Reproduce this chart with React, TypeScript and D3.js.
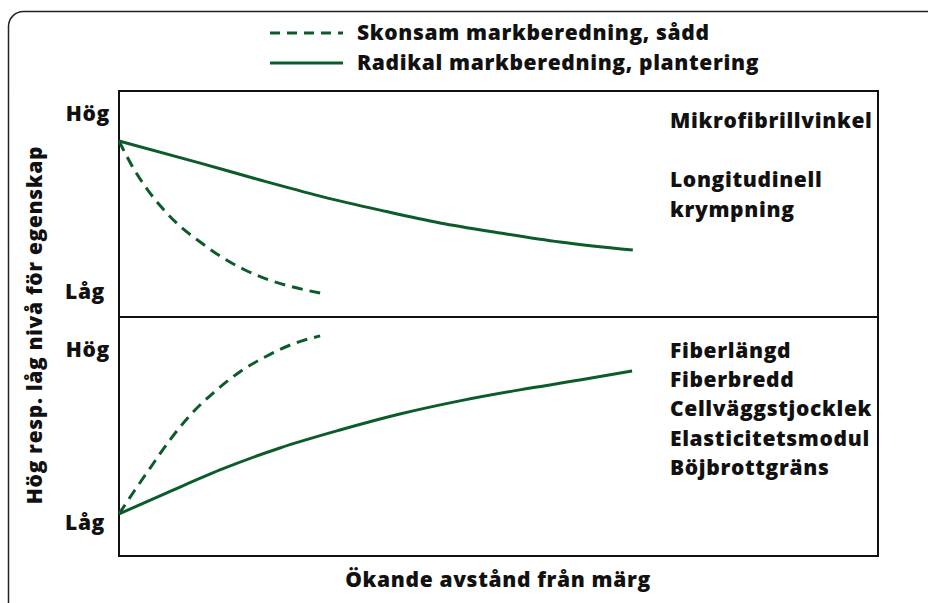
import React from "react";
import * as d3 from "d3";

const topRadikal: [number, number][] = [[0, 77.9], [10.7, 68.1], [18.6, 60.6], [26.5, 53.5], [34.4, 47.3], [42.3, 41.6], [50.2, 37.2], [58.1, 33.2], [67.7, 29.6]];
const topSkonsam: [number, number][] = [[0, 77.9], [1.8, 66.4], [3.7, 56.6], [5.7, 48.2], [8.0, 40.3], [10.7, 33.2], [13.3, 27.0], [16.6, 20.8], [20.2, 15.9], [23.5, 12.8], [26.5, 10.6]];
const botRadikal: [number, number][] = [[0, 17.6], [6.3, 26.4], [13.3, 36.0], [21.2, 45.2], [29.1, 52.7], [37.0, 59.4], [44.9, 64.9], [52.8, 69.5], [60.7, 73.6], [67.6, 77.4]];
const botSkonsam: [number, number][] = [[0, 17.6], [2.1, 27.6], [4.1, 36.8], [6.7, 48.5], [9.4, 59.0], [12.4, 68.2], [15.9, 77.0], [19.5, 83.7], [22.9, 88.7], [26.5, 92.1]];

const legendLabels = ["Skonsam markberedning, sådd", "Radikal markberedning, plantering"];
const levelLabels = ["Hög", "Låg"];
const topProps = ["Mikrofibrillvinkel", "", "Longitudinell", "krympning"];
const botProps = ["Fiberlängd", "Fiberbredd", "Cellväggstjocklek", "Elasticitetsmodul", "Böjbrottgräns"];
const yTitle = "Hög resp. låg nivå för egenskap";
const xTitle = "Ökande avstånd från märg";

const GREEN = "#0c5c2b";
const FONT = "'Open Sans', sans-serif";

export default function App() {
  const left = 119, right = 878, top = 91, mid = 317, bottom = 556;
  const x = d3.scaleLinear().domain([0, 100]).range([left, right]);
  const yTop = d3.scaleLinear().domain([0, 100]).range([mid, top]);
  const yBot = d3.scaleLinear().domain([0, 100]).range([bottom, mid]);
  const lineTop = d3.line<[number, number]>().x(d => x(d[0])).y(d => yTop(d[1])).curve(d3.curveMonotoneX);
  const lineBot = d3.line<[number, number]>().x(d => x(d[0])).y(d => yBot(d[1])).curve(d3.curveMonotoneX);
  const dash = "11 7";
  const txt = { fontFamily: FONT, fontWeight: 800, fontSize: 21, letterSpacing: 0.65, fill: "#111" } as const;

  return (
    <svg width={928} height={603} style={{ position: "absolute", left: 0, top: 0, display: "block" }}>
      <rect x={0} y={0} width={928} height={603} fill="#fff" />
      <rect x={8.5} y={11.5} width={960} height={660} rx={15} fill="none" stroke="#222" strokeWidth={1.5} />
      {/* legend */}
      <line x1={270} x2={343} y1={33} y2={33} stroke={GREEN} strokeWidth={3} strokeDasharray="10 7" />
      <line x1={270} x2={343} y1={63} y2={63} stroke={GREEN} strokeWidth={3.2} />
      <text x={357} y={40} {...txt}>{legendLabels[0]}</text>
      <text x={357} y={70} {...txt}>{legendLabels[1]}</text>
      {/* plot box */}
      <rect x={left} y={top} width={right - left} height={bottom - top} fill="none" stroke="#111" strokeWidth={2} />
      <line x1={left} x2={right} y1={mid} y2={mid} stroke="#111" strokeWidth={2} />
      {/* curves */}
      <path d={lineTop(topRadikal) || ""} fill="none" stroke={GREEN} strokeWidth={3} />
      <path d={lineTop(topSkonsam) || ""} fill="none" stroke={GREEN} strokeWidth={3} strokeDasharray={dash} />
      <path d={lineBot(botRadikal) || ""} fill="none" stroke={GREEN} strokeWidth={3} />
      <path d={lineBot(botSkonsam) || ""} fill="none" stroke={GREEN} strokeWidth={3} strokeDasharray={dash} />
      {/* level labels */}
      <text x={110} y={121} textAnchor="end" {...txt}>{levelLabels[0]}</text>
      <text x={105} y={299} textAnchor="end" {...txt}>{levelLabels[1]}</text>
      <text x={110} y={357} textAnchor="end" {...txt}>{levelLabels[0]}</text>
      <text x={105} y={530} textAnchor="end" {...txt}>{levelLabels[1]}</text>
      {/* property labels */}
      {topProps.map((t, i) => (
        <text key={"t" + i} x={670} y={128 + i * 29.5} {...txt}>{t}</text>
      ))}
      {botProps.map((t, i) => (
        <text key={"b" + i} x={670} y={358 + i * 29.2} {...txt}>{t}</text>
      ))}
      {/* axis titles */}
      <text transform="translate(42,325) rotate(-90)" textAnchor="middle" {...txt}>{yTitle}</text>
      <text x={498} y={587} textAnchor="middle" {...txt}>{xTitle}</text>
    </svg>
  );
}
